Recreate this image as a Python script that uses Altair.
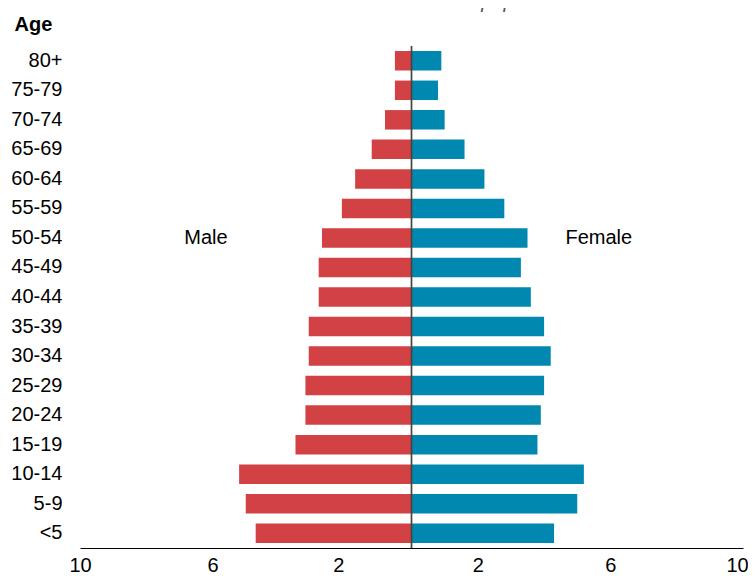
import altair as alt
import pandas as pd

ages = ["80+", "75-79", "70-74", "65-69", "60-64", "55-59", "50-54", "45-49",
        "40-44", "35-39", "30-34", "25-29", "20-24", "15-19", "10-14", "5-9", "<5"]
male = [0.5, 0.5, 0.8, 1.2, 1.7, 2.1, 2.7, 2.8, 2.8, 3.1, 3.1, 3.2, 3.2, 3.5, 5.2, 5.0, 4.7]
female = [0.9, 0.8, 1.0, 1.6, 2.2, 2.8, 3.5, 3.3, 3.6, 4.0, 4.2, 4.0, 3.9, 3.8, 5.2, 5.0, 4.3]
tick_values = [-10, -6, -2, 2, 6, 10]
sexes = ["Male", "Female"]
colors = ["#D24144", "#0088B0"]
label_rows = ["50-54", "50-54"]
label_x = [-6.2, 5.65]

FONT = "Liberation Sans"

rows = []
for a, m, f in zip(ages, male, female):
    rows.append({"age": a, "sex": "Male", "value": -m})
    rows.append({"age": a, "sex": "Female", "value": f})
df = pd.DataFrame(rows)

xscale = alt.Scale(domain=[-10, 10], nice=False, zero=False)
yscale = alt.Scale(paddingInner=0.34, paddingOuter=0.17)

bars = alt.Chart(df).mark_bar().encode(
    x=alt.X("value:Q", scale=xscale,
            axis=alt.Axis(values=tick_values, labelExpr="abs(datum.value)", title=None,
                          grid=False, ticks=False, domain=True, domainColor="#000",
                          domainWidth=1, labelFontSize=20, labelFont=FONT, labelColor="#000",
                          labelPadding=7, labelFlush=False,
                          labelOffset={"condition": [
                              {"test": "datum.value == 10", "value": -6},
                              {"test": "datum.value == -2", "value": -7},
                          ], "value": 0})),
    y=alt.Y("age:N", sort=ages, scale=yscale,
            axis=alt.Axis(title="Age", titleAngle=0, titleX=-66, titleY=-16,
                          titleAlign="left", titleBaseline="alphabetic",
                          titleFontSize=20, titleFontWeight="bold", titleFont=FONT,
                          titleColor="#000", labelFontSize=20, labelFont=FONT,
                          labelColor="#000", labelPadding=18, ticks=False, domain=False,
                          grid=False)),
    color=alt.Color("sex:N", scale=alt.Scale(domain=sexes, range=colors), legend=None),
)

rule = alt.Chart(pd.DataFrame({"x": [0]})).mark_rule(color="#444", strokeWidth=1.7).encode(
    x=alt.X("x:Q", scale=xscale)
)

labels = alt.Chart(pd.DataFrame({"label": sexes, "age": label_rows, "x": label_x})).mark_text(
    fontSize=20, font=FONT, color="#000"
).encode(
    x=alt.X("x:Q", scale=xscale),
    y=alt.Y("age:N", sort=ages, scale=yscale),
    text="label:N",
)

chart = alt.layer(bars, rule, labels).properties(
    width=663, height=502,
    title=alt.TitleParams("Percent distribution of the total population",
                          fontSize=20, fontStyle="italic", font=FONT, color="#555",
                          anchor="middle", frame="group", fontWeight="normal",
                          dx=-22, dy=2),
    padding={"left": 72, "top": 38, "right": 5, "bottom": 27},
    autosize=alt.AutoSizeParams(type="none"),
).configure_view(stroke=None)

chart.save("out.html", embed_options={"renderer": "svg", "actions": False})
